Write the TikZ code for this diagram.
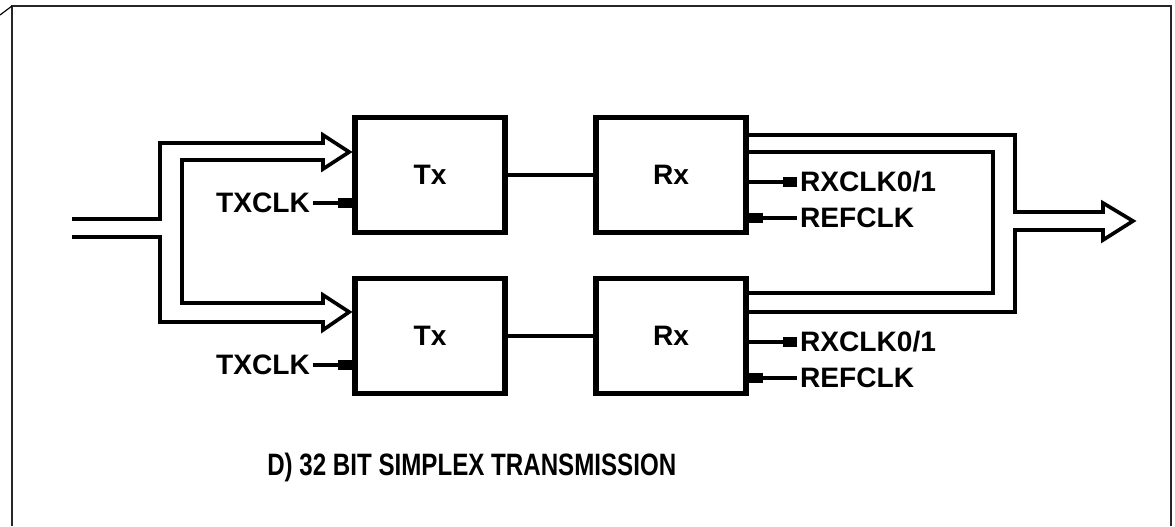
\documentclass[tikz,border=0pt]{standalone}
\usepackage{fontspec}
\setmainfont{Liberation Sans}
\newfontfamily\narrowfont[FakeStretch=0.78]{Liberation Sans}
\usetikzlibrary{arrows.meta,calc}

\begin{document}
\begin{tikzpicture}[x=0.025cm, y=-0.025cm,
    box/.style={draw, line width=4pt, minimum width=3.75cm, minimum height=2.875cm, font=\fontsize{20}{24}\selectfont\bfseries},
    sig/.style={line width=2.2pt},
    bus/.style={line width=2.6pt, line join=miter},
    pin/.style={-{Square[length=0.36cm,width=0.26cm]}},
    lbl/.style={inner sep=2pt, font=\fontsize{20}{24}\selectfont\bfseries}]

    \useasboundingbox (0,0) rectangle (1175,526);
    % Frame
    \draw[line width=1.4pt, black!85] (12,526) -- (12,6) -- (1171,6) -- (1171,526);
    \draw[line width=0.8pt] (0,15) -- (12,6);

    % Transmitters and receivers
    \node[box] (txA) at (430,175) {Tx};
    \node[box] (rxA) at (671,175) {Rx};
    \node[box] (txB) at (430,336) {Tx};
    \node[box] (rxB) at (671,336) {Rx};

    \draw[sig] (txA) -- (rxA);
    \draw[sig] (txB) -- (rxB);

    % Clock pins
    \node[lbl, anchor=east] (txclkA) at (313,203) {TXCLK};
    \node[lbl, anchor=east] (txclkB) at (313,365) {TXCLK};
    \draw[sig, pin] (txclkA) -- (txA.west |- txclkA);
    \draw[sig, pin] (txclkB) -- (txB.west |- txclkB);

    \node[lbl, anchor=west] (rxclkA) at (797,182) {RXCLK0/1};
    \node[lbl, anchor=west] (refclkA) at (797,218) {REFCLK};
    \node[lbl, anchor=west] (rxclkB) at (797,342) {RXCLK0/1};
    \node[lbl, anchor=west] (refclkB) at (797,378) {REFCLK};
    \draw[sig, pin] (rxA.east |- rxclkA) -- (rxclkA);
    \draw[sig, pin] (refclkA) -- (rxA.east |- refclkA);
    \draw[sig, pin] (rxB.east |- rxclkB) -- (rxclkB);
    \draw[sig, pin] (refclkB) -- (rxB.east |- refclkB);

    % Input bus, split to both transmitters
    \coordinate (inA) at (72,219);
    \coordinate (inB) at (72,237);
    \draw[bus] (inA) -- (160,219) -- (160,143) -- (323,143) -- (323,135)
        -- ($(txA.west)+(-3,-23)$) -- (323,169) -- (323,160) -- (182,160)
        -- (182,303) -- (323,303) -- (323,295)
        -- ($(txB.west)+(-3,-24)$) -- (323,330) -- (323,322) -- (160,322)
        -- (160,237) -- (inB);

    % Output bus, merged from both receivers
    \coordinate (outT) at (1133,221);
    \draw[bus] (rxA.east |- 0,135) -- (1015,135) -- (1015,212) -- (1103,212)
        -- (1103,203) -- (outT) -- (1103,240) -- (1103,230) -- (1015,230)
        -- (1015,312) -- (rxB.east |- 0,312);
    \draw[bus] (rxA.east |- 0,152) -- (993,152) -- (993,293) -- (rxB.east |- 0,293);

    % Caption
    \node[anchor=west, inner sep=0pt, font=\narrowfont\fontsize{22}{26}\selectfont\bfseries] (caption) at (267,467) {D) 32 BIT SIMPLEX TRANSMISSION};
\end{tikzpicture}
\end{document}
